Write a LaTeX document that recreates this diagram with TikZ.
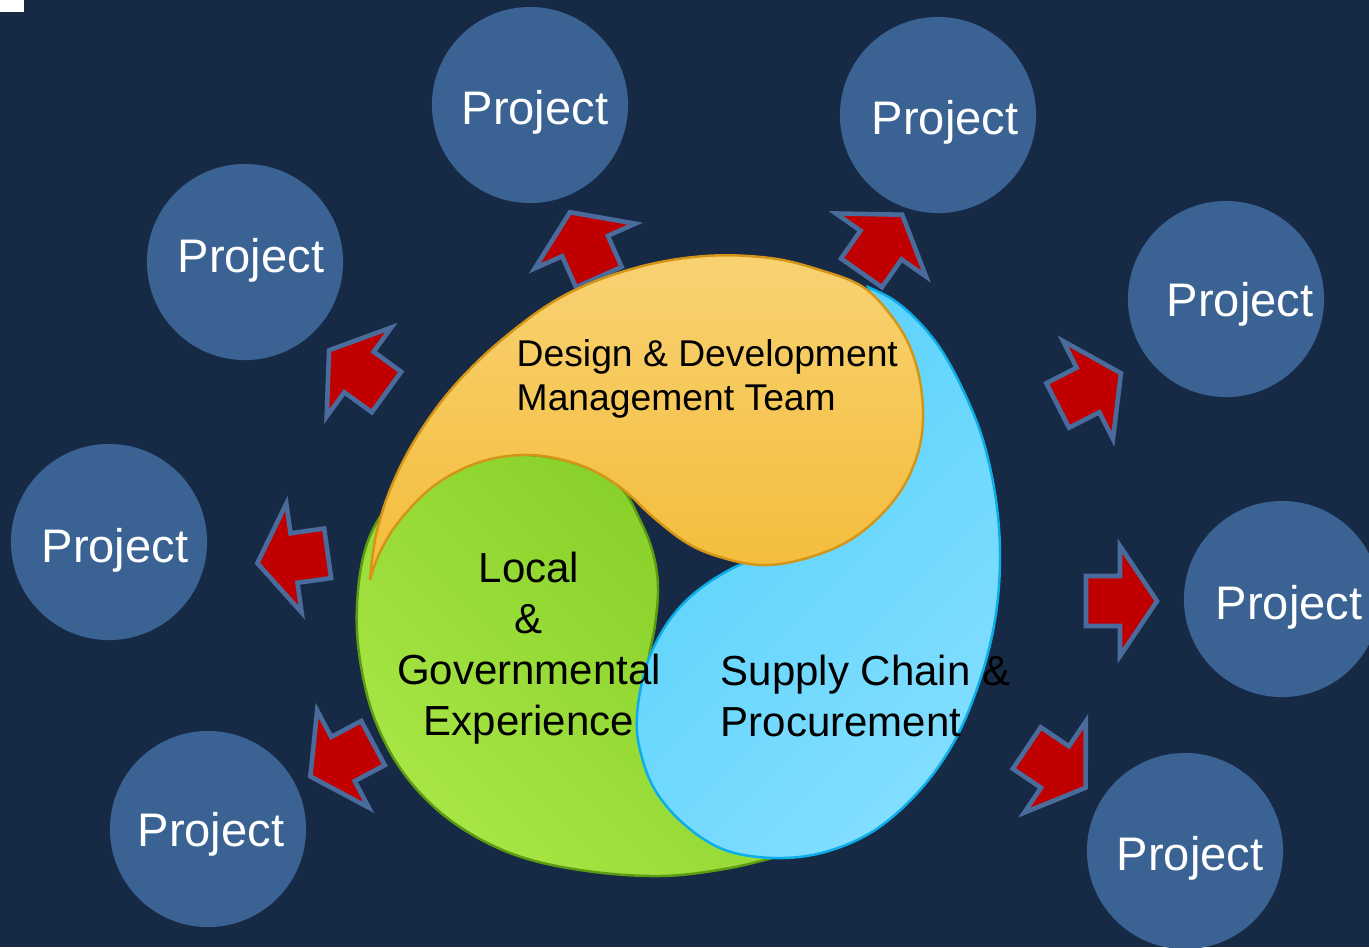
\documentclass[tikz,border=0pt]{standalone}
\usepackage{fontspec}
\setmainfont{Liberation Sans}
\definecolor{bg}{HTML}{172A45}
\definecolor{projfill}{HTML}{3A6393}
\definecolor{arrfill}{HTML}{C00000}
\definecolor{arrline}{HTML}{4A6C9C}
\definecolor{orTop}{HTML}{F8D272}
\definecolor{orBot}{HTML}{F4BC3A}
\definecolor{orLine}{HTML}{D49516}
\definecolor{grDark}{HTML}{84CE26}
\definecolor{grLight}{HTML}{A8E646}
\definecolor{grLine}{HTML}{5C9C12}
\definecolor{blDark}{HTML}{56D1FC}
\definecolor{blLight}{HTML}{82DEFF}
\definecolor{blLine}{HTML}{0BAEE8}
\tikzset{
  projcirc/.style={circle,fill=projfill,minimum size=1.96cm,inner sep=0pt},
  projtext/.style={text=white,inner sep=0pt,anchor=base,font=\fontsize{13.4pt}{16pt}\selectfont},
  arrowshape/.style={fill=arrfill,draw=arrline,line width=1.3pt,line join=miter},
  blockarr/.pic={\draw[arrowshape] (0,-25) -- (0,-55) -- (37,0) -- (0,55) -- (0,25) -- (-34,25) -- (-34,-25) -- cycle;},
  orangepart/.style={draw=orLine,line width=0.7pt,top color=orTop,bottom color=orBot},
  greenpart/.style={draw=grLine,line width=0.7pt,top color=grDark,bottom color=grLight,shading angle=-45},
  bluepart/.style={draw=blLine,line width=0.7pt,top color=blDark,bottom color=blLight,shading angle=45},
  dtext/.style={text=black,inner sep=0pt,font=\fontsize{10.6pt}{12pt}\selectfont},
  ltext/.style={text=black,inner sep=0pt,font=\fontsize{11.95pt}{14pt}\selectfont},
}
\begin{document}
\begin{tikzpicture}[x=0.01cm,y=-0.01cm]
\useasboundingbox (0,0) rectangle (1369,947);
\clip (0,0) rectangle (1369,947);
\fill[bg] (0,0) rectangle (1369,947);
\fill[white] (0,0) rectangle (24,12);

% project circles
\foreach \n/\x/\y/\dx/\dy in {1/530/105/5/19, 2/938/115/7/19, 3/245/262/6/10, 4/1226/299/14/17, 5/109/542/6/20, 6/1282/599/7/20, 7/208/829/3/17, 8/1185/851/5/19}{
  \node[projcirc] (c\n) at (\x,\y) {};
  \node[projtext] (l\n) at ([shift={(\dx,\dy)}]c\n.center) {Project};
}

% arrows
\pic (a1) [rotate=114]  at (585,246)  {blockarr};
\pic (a2) [rotate=55]   at (881,245)  {blockarr};
\pic (a3) [rotate=144]  at (359,372)  {blockarr};
\pic (a4) [rotate=-172] at (294,558)  {blockarr};
\pic (a5) [rotate=-152] at (343,759)  {blockarr};
\pic (a6) [rotate=27]   at (1088,390) {blockarr};
\pic (a7) [rotate=0]    at (1120,601) {blockarr};
\pic (a8) [rotate=-34]  at (1055,767) {blockarr};

% green
\draw[greenpart] plot[smooth, tension=0.6] coordinates {(790,853) (730,868) (660,876) (580,870) (510,853) (450,820) (405,775) (375,720) (360,660) (357,605) (365,550) (385,510) (420,478) (470,458) (530,455) (580,465) (620,487) (640,520) (653,553) (658,587) (655,625) (648,665) (652,700) (665,760) (710,820) (790,853)} -- cycle;
% blue
\draw[bluepart] plot[smooth, tension=0.6] coordinates {(868,287) (892,299) (915,318) (940,348) (963,390) (983,440) (996,500) (1000,560) (995,620) (980,680) (955,740) (920,790) (875,830) (825,852) (775,858) (725,850) (685,825) (655,790) (640,750) (637,715) (645,670) (660,635) (680,607) (705,585) (737,566) (775,550) (830,530) (875,495) (905,440) (905,380) (890,335) (875,305) (868,287)} -- cycle;
% orange
\draw[orangepart] plot[smooth, tension=0.6] coordinates {(370,580) (376,535) (392,485) (418,435) (455,385) (505,337) (565,295) (635,268) (705,256) (770,258) (820,270) (863,287) (893,318) (912,352) (922,395) (921,440) (906,482) (880,516) (845,543) (800,560) (760,565) (720,557) (687,543) (653,517) (620,487) (580,465) (530,455) (480,462) (435,485) (400,520) (380,552) (370,580)} -- cycle;

% texts
\node[dtext, anchor=base west] (t1) at (516,366) {Design \& Development};
\node[dtext, anchor=base west] (t2) at (516,410) {Management Team};
\node[ltext, anchor=base] (t3) at (529,582) {Local};
\node[ltext, anchor=base] (t4) at (529,633) {\&};
\node[ltext, anchor=base] (t5) at (529,684) {Governmental};
\node[ltext, anchor=base] (t6) at (529,735) {Experience};
\node[ltext, anchor=base west] (t7) at (720,685) {Supply Chain \&};
\node[ltext, anchor=base west] (t8) at (720,736) {Procurement};
\end{tikzpicture}
\end{document}
